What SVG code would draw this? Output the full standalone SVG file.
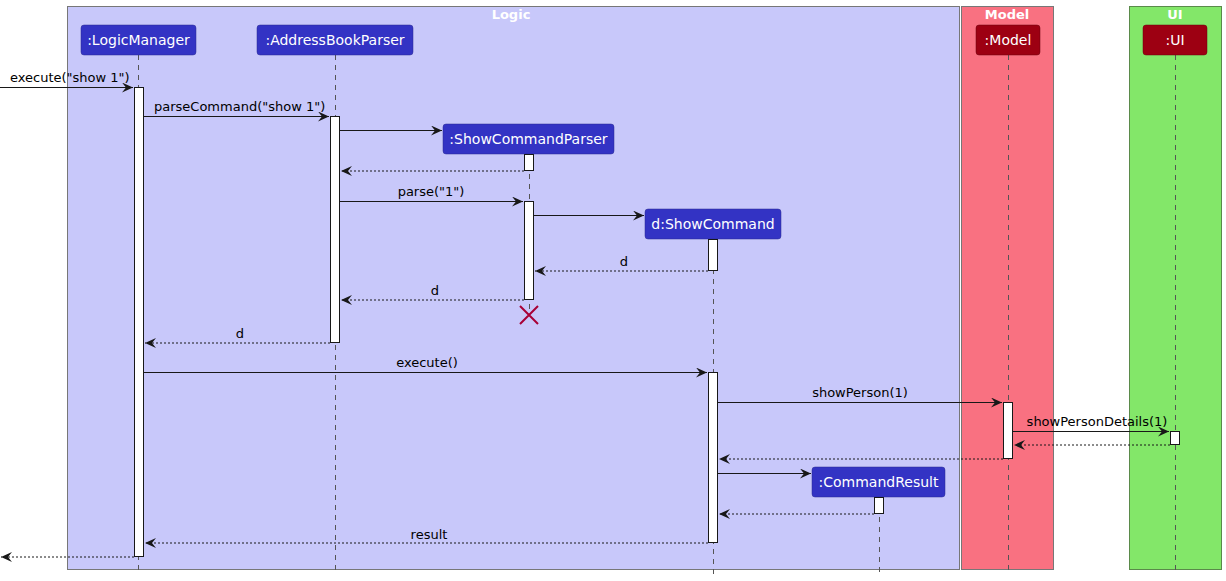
<svg xmlns="http://www.w3.org/2000/svg" width="1226" height="581" viewBox="0 0 1226 581">
<style>
text{font-family:"DejaVu Sans","Liberation Sans",sans-serif}
.boxt{font-size:13px;font-weight:bold;fill:#fff;text-anchor:middle}
.pt{font-size:14px;fill:#fff;text-anchor:middle}
.msg{font-size:13px;fill:#000}
.life{stroke:#555;stroke-width:1;stroke-dasharray:5,5;fill:none}
.act{fill:#fff;stroke:#181818;stroke-width:1}
.call{stroke:#181818;stroke-width:1;fill:none;marker-end:url(#ah)}
.ret{stroke:#181818;stroke-width:1;stroke-dasharray:2,2;fill:none;marker-end:url(#ah)}
.lp{fill:#3333C4;stroke:#2a2a90;stroke-width:0.5}
.mp{fill:#9D0012;stroke:#6a000c;stroke-width:0.5}
</style>
<defs>
<marker id="ah" markerWidth="12" markerHeight="10" refX="11" refY="5" orient="auto" markerUnits="userSpaceOnUse">
<path d="M0,0 L11,5 L0,10 L4,5 Z" fill="#181818"/>
</marker>
</defs>
<g id="boxes">
<rect x="67.5" y="6.5" width="892" height="563" fill="#C8C8FA" stroke="#777" stroke-width="1"/>
<text class="boxt" x="511" y="19">Logic</text>
<rect x="961.5" y="6.5" width="92" height="563" fill="#F97181" stroke="#777" stroke-width="1"/>
<text class="boxt" x="1007" y="19">Model</text>
<rect x="1129.5" y="6.5" width="92" height="563" fill="#83E769" stroke="#5a8a4a" stroke-width="1"/>
<text class="boxt" x="1175" y="19">UI</text>
</g>
<g id="lifelines">
<line class="life" x1="138.5" y1="55" x2="138.5" y2="575"/>
<line class="life" x1="335.5" y1="55" x2="335.5" y2="575"/>
<line class="life" x1="529.5" y1="154" x2="529.5" y2="315"/>
<line class="life" x1="713.5" y1="239" x2="713.5" y2="575"/>
<line class="life" x1="879.5" y1="497" x2="879.5" y2="575"/>
<line class="life" x1="1008.5" y1="55" x2="1008.5" y2="575"/>
<line class="life" x1="1175.5" y1="55" x2="1175.5" y2="575"/>
</g>
<g id="LogicManager">
<rect class="lp" x="81" y="25" width="115" height="30" rx="3"/>
<text class="pt" x="138.5" y="45">:LogicManager</text>
<rect class="act" x="134.5" y="87.5" width="9" height="469"/>
</g>
<g id="AddressBookParser">
<rect class="lp" x="257" y="25" width="156" height="30" rx="3"/>
<text class="pt" x="335" y="45">:AddressBookParser</text>
<rect class="act" x="330.5" y="116.5" width="9" height="226"/>
</g>
<g id="ShowCommandParser">
<rect class="lp" x="443" y="124" width="171" height="30" rx="3"/>
<text class="pt" x="528.5" y="144">:ShowCommandParser</text>
<rect class="act" x="524.5" y="154.5" width="9" height="16"/>
<rect class="act" x="524.5" y="201.5" width="9" height="98"/>
<path d="M520,306 L538,324 M538,306 L520,324" stroke="#A80036" stroke-width="2" fill="none"/>
</g>
<g id="ShowCommand">
<rect class="lp" x="645" y="209" width="136" height="30" rx="3"/>
<text class="pt" x="713" y="229">d:ShowCommand</text>
<rect class="act" x="708.5" y="239.5" width="9" height="31"/>
<rect class="act" x="708.5" y="372.5" width="9" height="170"/>
</g>
<g id="CommandResult">
<rect class="lp" x="812" y="467" width="133" height="30" rx="3"/>
<text class="pt" x="878.5" y="487">:CommandResult</text>
<rect class="act" x="874.5" y="497.5" width="9" height="16"/>
</g>
<g id="Model">
<rect class="mp" x="976" y="25" width="64" height="30" rx="3"/>
<text class="pt" x="1008" y="45">:Model</text>
<rect class="act" x="1003.5" y="402.5" width="9" height="56"/>
</g>
<g id="UI">
<rect class="mp" x="1143" y="25" width="64" height="30" rx="3"/>
<text class="pt" x="1175" y="45">:UI</text>
<rect class="act" x="1170.5" y="431.5" width="9" height="13"/>
</g>
<g id="connectors">
<line class="call" x1="0" y1="87.5" x2="133" y2="87.5"/>
<text class="msg" x="10" y="82">execute("show 1")</text>
<line class="call" x1="144" y1="116.5" x2="329" y2="116.5"/>
<text class="msg" x="154" y="111">parseCommand("show 1")</text>
<line class="call" x1="340" y1="130.5" x2="442" y2="130.5"/>
<line class="ret" x1="524" y1="171" x2="341" y2="171"/>
<line class="call" x1="340" y1="201.5" x2="523" y2="201.5"/>
<text class="msg" x="431" y="196" text-anchor="middle">parse("1")</text>
<line class="call" x1="534" y1="215.5" x2="644" y2="215.5"/>
<line class="ret" x1="708" y1="271" x2="535" y2="271"/>
<text class="msg" x="624" y="266" text-anchor="middle">d</text>
<line class="ret" x1="524" y1="300" x2="341" y2="300"/>
<text class="msg" x="435" y="295" text-anchor="middle">d</text>
<line class="ret" x1="330" y1="343" x2="145" y2="343"/>
<text class="msg" x="240" y="338" text-anchor="middle">d</text>
<line class="call" x1="144" y1="372.5" x2="707" y2="372.5"/>
<text class="msg" x="427" y="367" text-anchor="middle">execute()</text>
<line class="call" x1="718" y1="402.5" x2="1002" y2="402.5"/>
<text class="msg" x="860" y="397" text-anchor="middle">showPerson(1)</text>
<line class="call" x1="1013" y1="431.5" x2="1169" y2="431.5"/>
<text class="msg" x="1097" y="426" text-anchor="middle">showPersonDetails(1)</text>
<line class="ret" x1="1170" y1="445" x2="1014" y2="445"/>
<line class="ret" x1="1003" y1="459" x2="719" y2="459"/>
<line class="call" x1="718" y1="473.5" x2="811" y2="473.5"/>
<line class="ret" x1="874" y1="514" x2="719" y2="514"/>
<line class="ret" x1="708" y1="543" x2="145" y2="543"/>
<text class="msg" x="429" y="539" text-anchor="middle">result</text>
<line class="ret" x1="134" y1="557" x2="1" y2="557"/>
</g>
</svg>
